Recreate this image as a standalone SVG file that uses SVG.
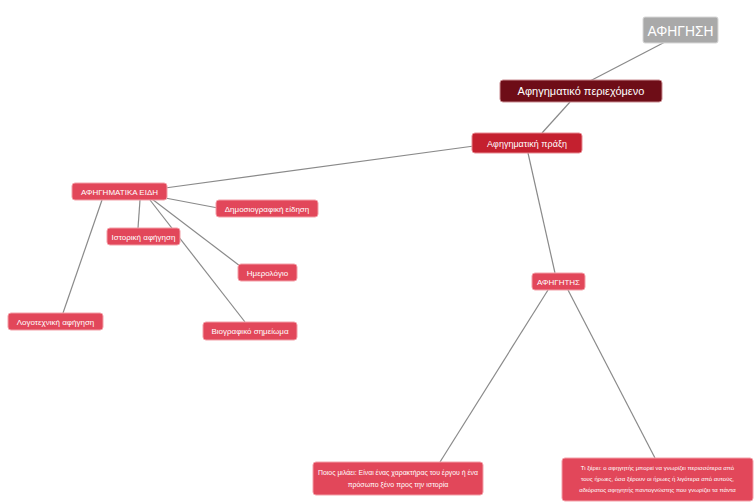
<svg xmlns="http://www.w3.org/2000/svg" width="755" height="502" viewBox="0 0 755 502">
<style>
.n{fill:#e2475a;stroke:#f3a0a8;stroke-width:1}
.t{font-family:"Liberation Sans","DejaVu Sans",sans-serif;fill:#fff;text-anchor:middle}
.s{font-size:8px}
.c line{stroke:#8a8a8a;stroke-width:1.2}
</style>
<rect width="755" height="502" fill="#fff"/>
<g class="c" id="connectors">
<line x1="665" y1="42" x2="590" y2="81"/>
<line x1="570" y1="102" x2="542" y2="133"/>
<line x1="474" y1="146" x2="165" y2="188"/>
<line x1="528" y1="153" x2="555" y2="273"/>
<line x1="548" y1="290" x2="440" y2="462"/>
<line x1="568" y1="290" x2="655" y2="458"/>
<line x1="160" y1="197" x2="218" y2="208"/>
<line x1="140" y1="200" x2="138" y2="228"/>
<line x1="152" y1="199" x2="240" y2="266"/>
<line x1="150" y1="200" x2="245" y2="322"/>
<line x1="102" y1="200" x2="63" y2="313"/>
</g>
<g id="afigisi">
<rect x="643" y="17" width="75" height="26" rx="2" fill="#a9a9a9" stroke="#d8d8d8"/>
<text class="t" x="680.5" y="36" font-size="15" textLength="66" lengthAdjust="spacingAndGlyphs">ΑΦΗΓΗΣΗ</text>
</g>
<g id="periexomeno">
<rect x="500" y="80" width="162" height="22" rx="3" fill="#6e0d17" stroke="#c98b90"/>
<text class="t" x="581" y="95" font-size="11">Αφηγηματικό περιεχόμενο</text>
</g>
<g id="praxi">
<rect x="472" y="133" width="110" height="20" rx="3" fill="#c4202f" stroke="#e88a92"/>
<text class="t" x="527" y="146.5" font-size="9">Αφηγηματική πράξη</text>
</g>
<g id="eidi">
<rect class="n" x="72" y="183" width="95" height="17" rx="3"/>
<text class="t s" x="119.5" y="194.5">ΑΦΗΓΗΜΑΤΙΚΑ ΕΙΔΗ</text>
</g>
<g id="eidisi">
<rect class="n" x="216" y="200" width="102" height="17" rx="3"/>
<text class="t s" x="267" y="211.5">Δημοσιογραφική είδηση</text>
</g>
<g id="istoriki">
<rect class="n" x="107" y="228" width="73" height="17" rx="3"/>
<text class="t s" x="143.5" y="239.5">Ιστορική αφήγηση</text>
</g>
<g id="imerologio">
<rect class="n" x="238" y="264" width="59" height="17" rx="3"/>
<text class="t s" x="267.5" y="275.5">Ημερολόγιο</text>
</g>
<g id="viografiko">
<rect class="n" x="203" y="322" width="94" height="18" rx="3"/>
<text class="t s" x="250" y="334">Βιογραφικό σημείωμα</text>
</g>
<g id="logotexniki">
<rect class="n" x="8" y="313" width="95" height="17" rx="3"/>
<text class="t s" x="55.5" y="324.5">Λογοτεχνική αφήγηση</text>
</g>
<g id="afigitis">
<rect class="n" x="532" y="273" width="53" height="17" rx="3"/>
<text class="t s" x="558.5" y="284.5">ΑΦΗΓΗΤΗΣ</text>
</g>
<g id="poios">
<rect class="n" x="313" y="462" width="170" height="33" rx="3"/>
<text class="t" x="398" y="475" font-size="7" textLength="160" lengthAdjust="spacingAndGlyphs">Ποιος μιλάει: Είναι ένας χαρακτήρας του έργου ή ένα</text>
<text class="t" x="398" y="487" font-size="7">πρόσωπο ξένο προς την ιστορία</text>
</g>
<g id="tixerei">
<rect class="n" x="562" y="458" width="191" height="43" rx="3"/>
<text class="t" x="657.5" y="470" font-size="6">Τι ξέρει: ο αφηγητής μπορεί να γνωρίζει περισσότερα από</text>
<text class="t" x="657.5" y="481" font-size="6">τους ήρωες, όσα ξέρουν οι ήρωες ή λιγότερα από αυτούς,</text>
<text class="t" x="657.5" y="492" font-size="6">αδιόρατος αφηγητής παντογνώστης που γνωρίζει τα πάντα</text>
</g>
</svg>
